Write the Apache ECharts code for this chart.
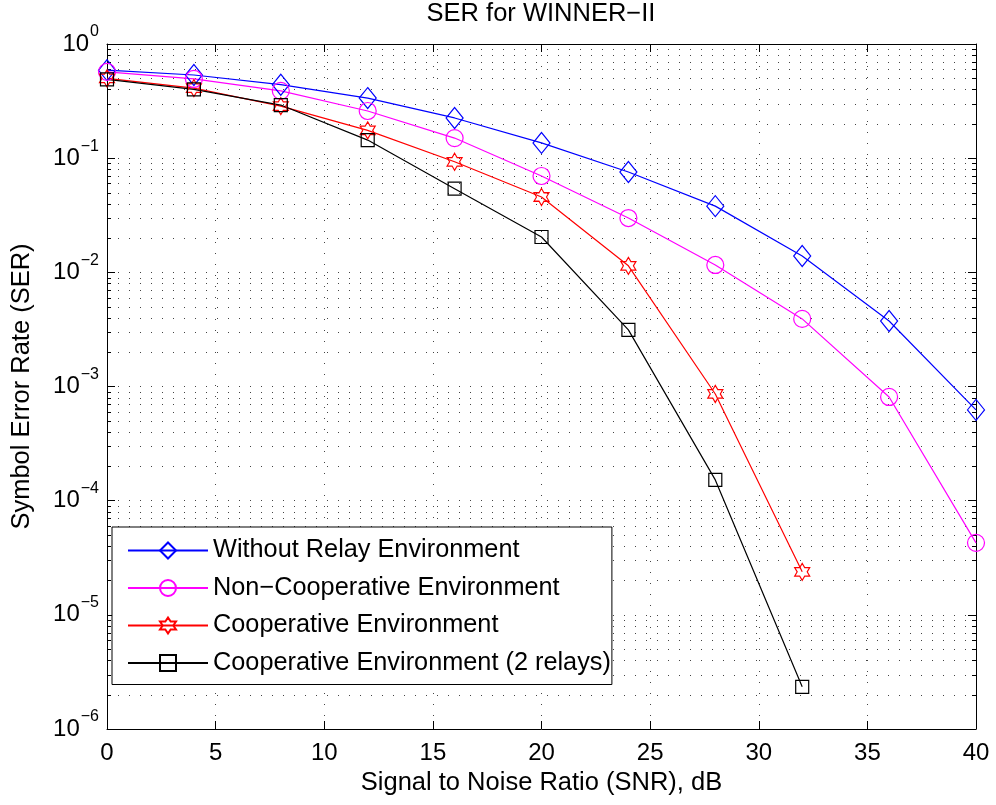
<!DOCTYPE html>
<html>
<head>
<meta charset="utf-8">
<script src="https://cdn.jsdelivr.net/npm/echarts@6/dist/echarts.min.js"></script>
<style>
  html, body { margin: 0; padding: 0; background: #fff; }
  #chart { width: 996px; height: 805px; }
</style>
</head>
<body>
<div id="chart"></div>
<script>
// SNR in dB
const snr = [0, 4, 8, 12, 16, 20, 24, 28, 32, 36, 40]
// symbol error rate per scheme
const withoutRelay = [0.59, 0.535, 0.44, 0.336, 0.225, 0.136, 0.0757, 0.038, 0.0139, 0.00375, 0.000624]
const nonCooperative = [0.57, 0.494, 0.389, 0.259, 0.150, 0.0698, 0.0299, 0.0116, 0.00391, 0.00081, 0.0000427]
const cooperative = [0.50, 0.41, 0.286, 0.175, 0.093, 0.0457, 0.0114, 0.00086, 0.0000238]
const cooperative2 = [0.49, 0.40, 0.292, 0.144, 0.054, 0.0204, 0.00313, 0.000152, 0.00000234]
const seriesNames = [
  'Without Relay Environment',
  'Non\u2212Cooperative Environment',
  'Cooperative Environment',
  'Cooperative Environment (2 relays)'
]
// log grid: decades and the minor steps inside each one
const decades = [1e-6, 1e-5, 1e-4, 1e-3, 1e-2, 1e-1]
const minorSteps = [2, 3, 4, 5, 6, 7, 8, 9]

const FONT = '"Liberation Sans", Arial, Helvetica, sans-serif'
const hexagram = 'path://M50 0 L64.4 25 L93.3 25 L78.9 50 L93.3 75 L64.4 75 L50 100 L35.6 75 L6.7 75 L21.1 50 L6.7 25 L35.6 25 Z'
const dotted = { color: '#444', width: 1, type: [1, 10] }

function pairs(ys) {
  return ys.map((v, i) => [snr[i], v])
}

const minorGrid = []
decades.forEach(d => {
  minorSteps.forEach(m => {
    minorGrid.push([0, d * m])
  })
})

function makeSeries(name, ys, color, symbol, size) {
  return {
    name: name,
    type: 'line',
    data: pairs(ys),
    symbol: symbol,
    symbolSize: size,
    showAllSymbol: true,
    color: color,
    lineStyle: { color: color, width: 1.2 },
    itemStyle: { color: 'rgba(0,0,0,0)', borderColor: color, borderWidth: 1.2 },
    emphasis: { disabled: true },
    z: 3
  }
}

// minor log grid lines + minor ticks on both sides
function renderMinor(params, api) {
  const cs = params.coordSys
  const p = api.coord([0, api.value(1)])
  const y = Math.round(p[1]) + 0.5
  const x0 = cs.x
  const x1 = cs.x + cs.width
  return {
    type: 'group',
    silent: true,
    children: [
      {
        type: 'line',
        shape: { x1: x0, y1: y, x2: x1, y2: y },
        style: { stroke: '#444', lineWidth: 1, lineDash: [1, 10] }
      },
      {
        type: 'line',
        shape: { x1: x0, y1: y, x2: x0 + 4, y2: y },
        style: { stroke: '#000', lineWidth: 1 }
      },
      {
        type: 'line',
        shape: { x1: x1 - 4, y1: y, x2: x1, y2: y },
        style: { stroke: '#000', lineWidth: 1 }
      }
    ]
  }
}

const chart = echarts.init(document.getElementById('chart'))
chart.setOption({
  backgroundColor: '#fff',
  animation: false,
  textStyle: { fontFamily: FONT },
  title: {
    text: 'SER for WINNER\u2212II',
    left: 541,
    textAlign: 'center',
    top: 1,
    padding: 0,
    textStyle: { fontFamily: FONT, fontSize: 25.5, fontWeight: 'normal', color: '#000' }
  },
  grid: { left: 107, right: 20, top: 44, bottom: 76 },
  legend: {
    left: 112,
    top: 527,
    orient: 'vertical',
    backgroundColor: '#fff',
    borderColor: '#000',
    borderWidth: 1,
    padding: [11, 1, 9, 15],
    itemWidth: 80,
    itemHeight: 20,
    itemGap: 12.5,
    textStyle: { fontFamily: FONT, fontSize: 25.3, color: '#000' },
    data: seriesNames
  },
  xAxis: [
    {
      type: 'value',
      min: 0,
      max: 40,
      interval: 5,
      name: 'Signal to Noise Ratio (SNR), dB',
      nameLocation: 'middle',
      nameGap: 32,
      nameTextStyle: { fontFamily: FONT, fontSize: 25.5, color: '#000' },
      axisLine: { onZero: false, lineStyle: { color: '#000', width: 1 } },
      axisTick: { inside: true, length: 8, lineStyle: { color: '#000' } },
      axisLabel: { fontFamily: FONT, fontSize: 24, color: '#000', margin: 12 },
      splitLine: { show: true, lineStyle: dotted }
    },
    {
      type: 'value',
      position: 'top',
      min: 0,
      max: 40,
      interval: 5,
      axisLine: { onZero: false, lineStyle: { color: '#000', width: 1 } },
      axisTick: { inside: true, length: 8, lineStyle: { color: '#000' } },
      axisLabel: { show: false },
      splitLine: { show: false }
    }
  ],
  yAxis: [
    {
      type: 'log',
      logBase: 10,
      min: 1e-6,
      max: 1,
      name: 'Symbol Error Rate (SER)',
      nameLocation: 'middle',
      nameGap: 72,
      nameTextStyle: { fontFamily: FONT, fontSize: 25.5, color: '#000' },
      axisLine: { onZero: false, lineStyle: { color: '#000', width: 1 } },
      axisTick: { inside: true, length: 8, lineStyle: { color: '#000' } },
      splitLine: { show: true, lineStyle: dotted },
      axisLabel: {
        margin: 8,
        formatter: function (v) {
          const e = Math.round(Math.log10(v))
          return '{b|10}{s|' + (e < 0 ? '\u2212' + (-e) : e) + '}'
        },
        rich: {
          b: { fontFamily: FONT, fontSize: 24, color: '#000' },
          s: { fontFamily: FONT, fontSize: 16, color: '#000', padding: [0, 0, 24, 1] }
        }
      }
    },
    {
      type: 'log',
      logBase: 10,
      min: 1e-6,
      max: 1,
      position: 'right',
      axisLine: { onZero: false, lineStyle: { color: '#000', width: 1 } },
      axisTick: { inside: true, length: 8, lineStyle: { color: '#000' } },
      axisLabel: { show: false },
      splitLine: { show: false }
    }
  ],
  series: [
    {
      name: 'minor grid',
      type: 'custom',
      renderItem: renderMinor,
      data: minorGrid,
      silent: true,
      clip: false,
      z: 1
    },
    makeSeries(seriesNames[0], withoutRelay, '#0000ff', 'diamond', [17, 21]),
    makeSeries(seriesNames[1], nonCooperative, '#ff00ff', 'circle', 17),
    makeSeries(seriesNames[2], cooperative, '#ff0000', hexagram, [15, 17]),
    makeSeries(seriesNames[3], cooperative2, '#000000', 'rect', 13)
  ]
})
</script>
</body>
</html>
